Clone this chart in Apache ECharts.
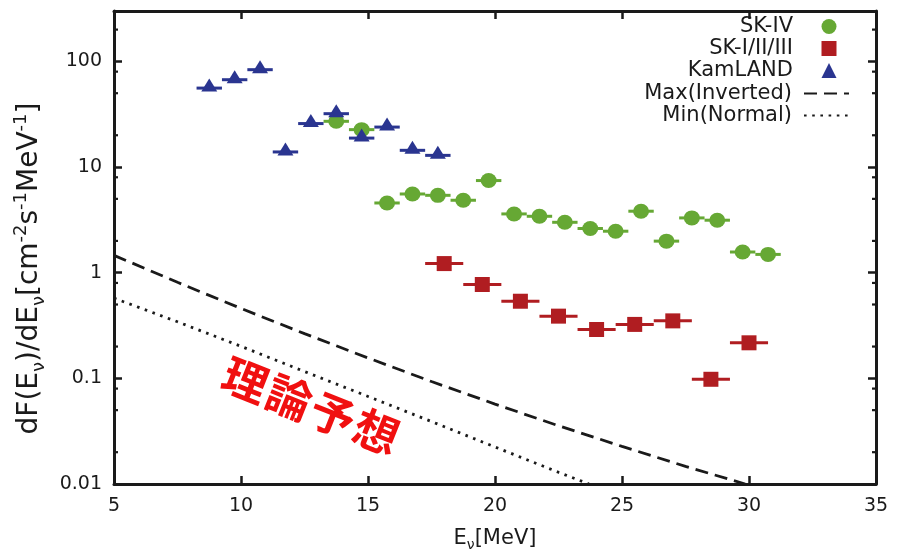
<!DOCTYPE html>
<html>
<head>
<meta charset="utf-8">
<script src="https://cdn.jsdelivr.net/npm/echarts@6/dist/echarts.min.js"></script>
<style>
  html, body { margin: 0; padding: 0; background: #ffffff; }
  #chart { width: 898px; height: 554px; }
</style>
</head>
<body>
<div id="chart"></div>
<script>
// ---- Relic neutrino flux limits, dF(E)/dE in cm^-2 s^-1 MeV^-1 ----

// Super-Kamiokande phase IV
const skivEnergy = [13.75, 14.75, 15.75, 16.75, 17.75, 18.75, 19.75, 20.75, 21.75,
                    22.75, 23.75, 24.75, 25.75, 26.75, 27.75, 28.75, 29.75, 30.75];
const skivFlux   = [27.1, 22.6, 4.57, 5.56, 5.40, 4.85, 7.45, 3.60, 3.42,
                    3.00, 2.62, 2.47, 3.82, 1.99, 3.30, 3.14, 1.57, 1.49];
const skivBinHalf = 0.5;

// Super-Kamiokande phases I-III
const sk123Energy = [18, 19.5, 21, 22.5, 24, 25.5, 27, 28.5, 30];
const sk123Flux   = [1.22, 0.773, 0.537, 0.388, 0.290, 0.324, 0.350, 0.098, 0.217];
const sk123BinHalf = 0.75;

// KamLAND
const kamEnergy = [8.75, 9.75, 10.75, 11.75, 12.75, 13.75, 14.75, 15.75, 16.75, 17.75];
const kamFlux   = [55.9, 67.1, 83.5, 13.9, 25.8, 32.0, 18.8, 23.9, 14.4, 12.9];
const kamBinHalf = 0.5;

// Model predictions
const maxInvEnergy = [5, 7.5, 10, 12.5, 15, 17.5, 20, 22.5, 25, 27.5, 29.85];
const maxInvFlux   = [1.46, 0.811, 0.459, 0.265, 0.156, 0.0933, 0.0571, 0.0356, 0.0227, 0.0147, 0.01];
const minNorEnergy = [5, 7.5, 10, 12.5, 15, 17.5, 20, 22.5, 23.7];
const minNorFlux   = [0.574, 0.343, 0.201, 0.116, 0.0674, 0.039, 0.0224, 0.0129, 0.01];

// Axis ticks
const xTicks = [5, 10, 15, 20, 25, 30, 35];
const yMajorTicks = [0.01, 0.1, 1, 10, 100];
const yMinorTicks = [0.02, 0.05, 0.08, 0.2, 0.5, 0.8, 2, 5, 8, 20, 50, 80, 200];

const markerNames = ['SK-IV', 'SK-I/II/III', 'KamLAND'];
const curveNames = ['Max(Inverted)', 'Min(Normal)'];
const noteText = '理論予想';

// ---- styling ----
const GREEN = '#66a834';
const RED = '#b01d21';
const BLUE = '#2a3590';
const INK = '#1a1a1a';
const FONT = '"DejaVu Sans", "Liberation Sans", Arial, sans-serif';

const pairs = (xs, ys) => xs.map((x, i) => [x, ys[i]]);
const withHalf = (xs, ys, h) => xs.map((x, i) => [x, ys[i], h]);

function binBars(color) {
  return function (params, api) {
    const e = api.value(0), v = api.value(1), h = api.value(2);
    const a = api.coord([e - h, v]);
    const b = api.coord([e + h, v]);
    return {
      type: 'line',
      shape: { x1: a[0], y1: a[1], x2: b[0], y2: b[1] },
      style: { stroke: color, lineWidth: 3 }
    };
  };
}

const xMin = xTicks[0], xMax = xTicks[xTicks.length - 1];
const yMin = yMajorTicks[0];

function minorTickRender(params, api) {
  const v = api.value(0);
  const l = api.coord([xMin, v]);
  const r = api.coord([xMax, v]);
  const len = 4;
  return {
    type: 'group',
    children: [
      { type: 'line', shape: { x1: l[0], y1: l[1], x2: l[0] + len, y2: l[1] },
        style: { stroke: INK, lineWidth: 2.2 } },
      { type: 'line', shape: { x1: r[0] - len, y1: r[1], x2: r[0], y2: r[1] },
        style: { stroke: INK, lineWidth: 2.2 } }
    ]
  };
}

function decadeLabel(v) {
  const e = Math.log10(v);
  const r = Math.round(e);
  if (Math.abs(e - r) > 1e-6) return '';
  return r < 0 ? Math.pow(10, r).toFixed(-r) : String(Math.pow(10, r));
}

// Red note written along the prediction band, one glyph at a time so the
// characters can be spaced out.
function noteGlyphs(cx, cy, angleDeg, step, size) {
  const a = angleDeg * Math.PI / 180;
  const chars = Array.from(noteText);
  const mid = (chars.length - 1) / 2;
  return chars.map((ch, i) => ({
    type: 'text',
    x: cx + (i - mid) * step * Math.cos(a),
    y: cy + (i - mid) * step * Math.sin(a),
    rotation: -a,
    z: 50,
    style: {
      text: ch,
      fill: '#f01010',
      font: 'bold ' + size + 'px "Noto Sans CJK JP", sans-serif',
      align: 'center',
      verticalAlign: 'middle'
    }
  }));
}

const frameLine = { show: true, lineStyle: { color: INK, width: 3 } };
const majorTick = { show: true, inside: true, length: 8, lineStyle: { color: INK, width: 2.5 } };

const chart = echarts.init(document.getElementById('chart'), null, { renderer: 'canvas' });

chart.setOption({
  animation: false,
  backgroundColor: '#ffffff',
  grid: { left: 114, right: 22, top: 11, bottom: 70, containLabel: false, outerBoundsMode: 'none' },
  xAxis: [
    {
      type: 'value', position: 'bottom', min: xMin, max: xMax, interval: 5,
      axisLine: frameLine, axisTick: majorTick, splitLine: { show: false },
      axisLabel: { color: INK, fontSize: 19, fontFamily: FONT, margin: 13 },
      name: 'E{sub|ν}[MeV]', nameLocation: 'middle', nameGap: 42,
      nameTextStyle: {
        color: INK, fontSize: 21, fontFamily: FONT, lineHeight: 26,
        rich: {
          sub: { fontSize: 14, fontFamily: FONT, color: INK, verticalAlign: 'bottom', lineHeight: 14 }
        }
      }
    },
    {
      type: 'value', position: 'top', min: xMin, max: xMax, interval: 5,
      axisLine: frameLine, axisTick: majorTick, splitLine: { show: false },
      axisLabel: { show: false }
    }
  ],
  yAxis: [
    {
      type: 'log', logBase: 10, position: 'left', min: yMin, max: 300,
      axisLine: frameLine, axisTick: majorTick, splitLine: { show: false },
      axisLabel: { color: INK, fontSize: 19, fontFamily: FONT, margin: 12, formatter: decadeLabel },
      name: 'dF(E{sub|ν})/dE{sub|ν}[cm{sup|-2}s{sup|-1}MeV{sup|-1}]',
      nameLocation: 'middle', nameGap: 66, nameRotate: 90,
      nameTextStyle: {
        color: INK, fontSize: 28, fontFamily: FONT, lineHeight: 36,
        padding: [0, 42, 0, 0],
        rich: {
          sub: { fontSize: 18, fontFamily: FONT, color: INK, verticalAlign: 'bottom', lineHeight: 18 },
          sup: { fontSize: 18, fontFamily: FONT, color: INK, verticalAlign: 'top', lineHeight: 18 }
        }
      }
    },
    {
      type: 'log', logBase: 10, position: 'right', min: yMin, max: 300,
      axisLine: frameLine, axisTick: majorTick, splitLine: { show: false },
      axisLabel: { show: false }
    }
  ],
  legend: [
    {
      data: [
        { name: markerNames[0], icon: 'circle' },
        { name: markerNames[1], icon: 'rect' },
        { name: markerNames[2], icon: 'triangle' }
      ],
      orient: 'vertical',
      align: 'right',
      right: 61.5,
      top: 16,
      padding: 0,
      itemWidth: 15,
      itemHeight: 15,
      itemGap: 1,
      selectedMode: false,
      textStyle: { color: INK, fontSize: 21, fontFamily: FONT, padding: [0, 23.5, 0, 0] }
    },
    {
      data: curveNames,
      orient: 'vertical',
      align: 'right',
      right: 48,
      top: 83,
      padding: 0,
      itemWidth: 45,
      itemHeight: 14,
      itemGap: 1,
      selectedMode: false,
      itemStyle: { opacity: 0 },
      textStyle: { color: INK, fontSize: 21, fontFamily: FONT, padding: [0, 7, 0, 0] }
    }
  ],
  graphic: noteGlyphs(311, 406, 21.6, 47, 45),
  series: [
    {
      name: curveNames[0], type: 'line', data: pairs(maxInvEnergy, maxInvFlux),
      symbol: 'none', clip: true, z: 2,
      lineStyle: { color: INK, width: 2.8, type: [13, 7] },
      itemStyle: { color: INK }
    },
    {
      name: curveNames[1], type: 'line', data: pairs(minNorEnergy, minNorFlux),
      symbol: 'none', clip: true, z: 2,
      lineStyle: { color: INK, width: 2.8, type: [2.6, 5.6] },
      itemStyle: { color: INK }
    },
    {
      name: 'yMinorTicks', type: 'custom', renderItem: minorTickRender,
      data: yMinorTicks.map(v => [v]), encode: { y: 0 }, silent: true, z: 1, clip: false
    },
    {
      name: 'SK-IV bins', type: 'custom', renderItem: binBars(GREEN),
      data: withHalf(skivEnergy, skivFlux, skivBinHalf), encode: { x: 0, y: 1 }, z: 3, silent: true
    },
    {
      name: markerNames[0], type: 'scatter', data: pairs(skivEnergy, skivFlux),
      symbol: 'circle', symbolSize: [16, 15], z: 4,
      itemStyle: { color: GREEN, opacity: 1 }
    },
    {
      name: 'SK-I/II/III bins', type: 'custom', renderItem: binBars(RED),
      data: withHalf(sk123Energy, sk123Flux, sk123BinHalf), encode: { x: 0, y: 1 }, z: 5, silent: true
    },
    {
      name: markerNames[1], type: 'scatter', data: pairs(sk123Energy, sk123Flux),
      symbol: 'rect', symbolSize: 15, z: 6,
      itemStyle: { color: RED, opacity: 1 }
    },
    {
      name: 'KamLAND bins', type: 'custom', renderItem: binBars(BLUE),
      data: withHalf(kamEnergy, kamFlux, kamBinHalf), encode: { x: 0, y: 1 }, z: 7, silent: true
    },
    {
      name: markerNames[2], type: 'scatter', data: pairs(kamEnergy, kamFlux),
      symbol: 'triangle', symbolSize: [16, 13], symbolOffset: [0, -3], z: 8,
      itemStyle: { color: BLUE, opacity: 1 }
    }
  ]
});
</script>
</body>
</html>
